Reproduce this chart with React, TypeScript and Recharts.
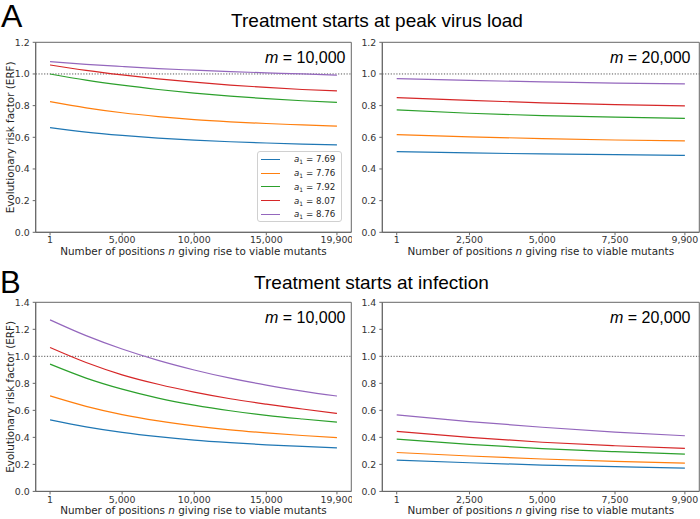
import { LineChart, Line, XAxis, YAxis, ReferenceLine, ReferenceArea, Legend } from 'recharts'

// x positions sampled along each curve
const nLong = [1, 2500, 5000, 7500, 10000, 12500, 15000, 17500, 19900]
const nShort = [1, 2500, 5000, 7500, 9900]
const ticksLong = [1, 5000, 10000, 15000, 19900]
const ticksShort = [1, 2500, 5000, 7500, 9900]
const yTicksA = [0, 0.2, 0.4, 0.6, 0.8, 1.0, 1.2]
const yTicksB = [0, 0.2, 0.4, 0.6, 0.8, 1.0, 1.2, 1.4]

const a1Values = ['7.69', '7.76', '7.92', '8.07', '8.76']
const colors = ['#1f77b4', '#ff7f0e', '#2ca02c', '#d62728', '#9467bd']

// A: treatment starts at peak virus load, m = 10,000 (one row per a1)
const peak10k = [
  [0.661, 0.633, 0.612, 0.595, 0.582, 0.572, 0.564, 0.557, 0.552],
  [0.825, 0.786, 0.755, 0.731, 0.712, 0.698, 0.687, 0.678, 0.67],
  [1.0, 0.961, 0.929, 0.902, 0.879, 0.86, 0.844, 0.831, 0.821],
  [1.057, 1.023, 0.994, 0.969, 0.948, 0.93, 0.915, 0.902, 0.893],
  [1.078, 1.061, 1.047, 1.034, 1.024, 1.015, 1.007, 1.0, 0.992],
]
// A: m = 20,000
const peak20k = [
  [0.509, 0.501, 0.495, 0.49, 0.486],
  [0.617, 0.603, 0.592, 0.583, 0.577],
  [0.773, 0.752, 0.737, 0.727, 0.72],
  [0.851, 0.833, 0.818, 0.806, 0.798],
  [0.971, 0.959, 0.95, 0.942, 0.937],
]
// B: treatment starts at infection, m = 10,000
const inf10k = [
  [0.53, 0.478, 0.437, 0.405, 0.38, 0.361, 0.345, 0.333, 0.322],
  [0.707, 0.63, 0.569, 0.522, 0.485, 0.456, 0.433, 0.414, 0.398],
  [0.942, 0.839, 0.757, 0.691, 0.639, 0.597, 0.563, 0.536, 0.513],
  [1.065, 0.954, 0.863, 0.793, 0.735, 0.686, 0.646, 0.61, 0.577],
  [1.27, 1.153, 1.054, 0.97, 0.899, 0.838, 0.787, 0.743, 0.706],
]
// B: m = 20,000
const inf20k = [
  [0.232, 0.212, 0.195, 0.183, 0.173],
  [0.288, 0.262, 0.24, 0.222, 0.21],
  [0.387, 0.348, 0.317, 0.294, 0.276],
  [0.444, 0.4, 0.364, 0.338, 0.318],
  [0.567, 0.517, 0.475, 0.439, 0.412],
]

const tickFont = { fontFamily: 'DejaVu Sans', fontSize: 9.4, fill: '#333' }
const spine = '#666'

function toRows(ns: number[], series: number[][]) {
  return ns.map((n, i) => {
    const row: Record<string, number> = { n }
    series.forEach((s, k) => (row['s' + k] = s[i]))
    return row
  })
}

function A1Legend({ payload }: any) {
  return (
    <div
      style={{
        border: '1px solid #d0d0d0',
        borderRadius: 3,
        background: 'rgba(255,255,255,0.85)',
        padding: '0.5px 4px 0.5px 3px',
        fontFamily: 'DejaVu Sans',
        fontSize: 8.7,
        color: '#262626',
        boxSizing: 'border-box',
        height: '100%',
      }}
    >
      {(payload || []).map((p: any) => (
        <div key={p.value} style={{ display: 'flex', alignItems: 'center', height: 13.75 }}>
          <span style={{ width: 19.3, height: 0, borderTop: `1.3px solid ${p.color}`, marginRight: 14 }} />
          <span>
            <i>a</i>
            <span style={{ fontSize: 6, position: 'relative', top: 2 }}>1</span> = {p.value}
          </span>
        </div>
      ))}
    </div>
  )
}

function XTitle({ viewBox }: any) {
  return (
    <text
      x={viewBox.x + viewBox.width / 2}
      y={viewBox.y + 22.3}
      textAnchor="middle"
      fontFamily="DejaVu Sans"
      fontSize={10.4}
      fill="#262626"
    >
      Number of positions <tspan fontStyle="italic">n</tspan> giving rise to viable mutants
    </text>
  )
}

function YTitle({ viewBox }: any) {
  const cy = viewBox.y + viewBox.height / 2
  return (
    <text
      x={10}
      y={cy}
      transform={`rotate(-90 10 ${cy})`}
      textAnchor="middle"
      dominantBaseline="central"
      fontFamily="DejaVu Sans"
      fontSize={10.4}
      fill="#262626"
    >
      Evolutionary risk factor (ERF)
    </text>
  )
}

type PanelProps = {
  left: number
  top: number
  width: number
  height: number
  yAxisWidth: number
  ns: number[]
  series: number[][]
  xTicks: number[]
  yTicks: number[]
  yMax: number
  yTitle?: boolean
  legend?: boolean
}

function Panel(p: PanelProps) {
  const data = toRows(p.ns, p.series)
  const xMin = p.ns[0]
  const xMax = p.ns[p.ns.length - 1]
  const pad = (xMax - xMin) * 0.05
  const xDomain = [xMin - pad, xMax + pad]
  return (
    <div style={{ position: 'absolute', left: p.left, top: p.top }}>
      <LineChart
        width={p.width}
        height={p.height}
        data={data}
        margin={{ top: 12.3, right: 0.7, bottom: 0, left: 0 }}
      >
        <XAxis
          dataKey="n"
          type="number"
          domain={xDomain}
          ticks={p.xTicks}
          allowDataOverflow
          tickFormatter={(v: number) => v.toLocaleString('en-US')}
          tick={tickFont}
          tickSize={3}
          tickMargin={1.5}
          height={28}
          stroke={spine}
          label={<XTitle />}
        />
        <YAxis
          type="number"
          domain={[0, p.yMax]}
          ticks={p.yTicks}
          allowDataOverflow
          tickFormatter={(v: number) => v.toFixed(1)}
          tick={tickFont}
          tickSize={3}
          tickMargin={3}
          width={p.yAxisWidth}
          stroke={spine}
          label={p.yTitle ? <YTitle /> : undefined}
        />
        <ReferenceArea
          x1={xDomain[0]}
          x2={xDomain[1]}
          y1={0}
          y2={p.yMax}
          fill="none"
          stroke={spine}
          strokeWidth={1}
          ifOverflow="visible"
        />
        <ReferenceLine y={1} stroke="#555" strokeWidth={1} strokeDasharray="1.2 1.6" />
        {p.series.map((_, k) => (
          <Line
            key={k}
            type="monotone"
            dataKey={'s' + k}
            name={a1Values[k]}
            stroke={colors[k]}
            strokeWidth={1.2}
            dot={false}
            isAnimationActive={false}
          />
        ))}
        {p.legend && (
          <Legend
            layout="vertical"
            align="center"
            verticalAlign="middle"
            content={<A1Legend />}
            wrapperStyle={{ left: 256.7, top: 121, width: 85, height: 71 }}
          />
        )}
      </LineChart>
    </div>
  )
}

export default function App() {
  const title = { fontFamily: 'Liberation Sans, Arial, sans-serif', fill: '#000' }
  return (
    <div
      style={{
        position: 'absolute',
        left: 0,
        top: 0,
        width: 700,
        height: 519,
        background: '#fff',
        overflow: 'hidden',
      }}
    >
      <Panel left={0} top={30} width={352} height={230.3} yAxisWidth={35.7} ns={nLong} series={peak10k}
        xTicks={ticksLong} yTicks={yTicksA} yMax={1.2} yTitle legend />
      <Panel left={352} top={30} width={348} height={230.3} yAxisWidth={30.3} ns={nShort} series={peak20k}
        xTicks={ticksShort} yTicks={yTicksA} yMax={1.2} />
      <Panel left={0} top={290} width={352} height={229.4} yAxisWidth={35.7} ns={nLong} series={inf10k}
        xTicks={ticksLong} yTicks={yTicksB} yMax={1.4} yTitle />
      <Panel left={352} top={290} width={348} height={229.4} yAxisWidth={30.3} ns={nShort} series={inf20k}
        xTicks={ticksShort} yTicks={yTicksB} yMax={1.4} />

      <svg width={700} height={519} style={{ position: 'absolute', left: 0, top: 0, pointerEvents: 'none' }}>
        <text x={1} y={26.5} fontSize={32} {...title}>A</text>
        <text x={377} y={27} fontSize={19} textAnchor="middle" {...title}>Treatment starts at peak virus load</text>
        <text x={345.5} y={63.3} fontSize={16} textAnchor="end" {...title}>
          <tspan fontStyle="italic">m</tspan> = 10,000
        </text>
        <text x={690.5} y={63.3} fontSize={16} textAnchor="end" {...title}>
          <tspan fontStyle="italic">m</tspan> = 20,000
        </text>

        <text x={0} y={293} fontSize={31} {...title}>B</text>
        <text x={371.5} y={288.5} fontSize={19} textAnchor="middle" {...title}>Treatment starts at infection</text>
        <text x={345.5} y={323.3} fontSize={16} textAnchor="end" {...title}>
          <tspan fontStyle="italic">m</tspan> = 10,000
        </text>
        <text x={690.5} y={323.3} fontSize={16} textAnchor="end" {...title}>
          <tspan fontStyle="italic">m</tspan> = 20,000
        </text>
      </svg>
    </div>
  )
}
